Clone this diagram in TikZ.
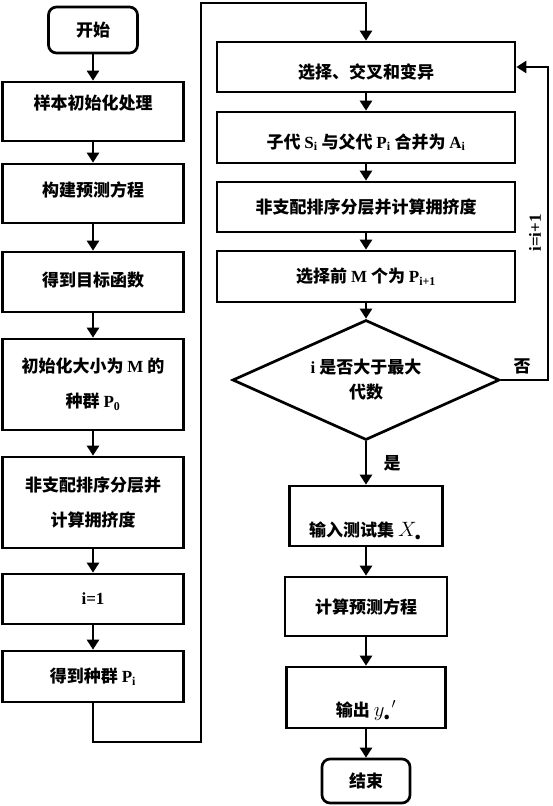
\documentclass[tikz,border=0pt]{standalone}
\usepackage{fontspec}
\setmainfont{Liberation Serif}
\newfontfamily\cjk{Noto Sans CJK SC}
\usetikzlibrary{arrows.meta, shapes.geometric}
\newcommand{\la}[1]{{\rmfamily\bfseries #1}}
\newcommand{\lgmath}[1]{{\fontsize{21}{21}\selectfont$#1$}}
\tikzset{
  every picture/.style={line width=2.7pt},
  box/.style={draw, rectangle, align=center, inner sep=0pt, font=\cjk\bfseries\fontsize{17}{35}\selectfont},
  term/.style={box, rounded corners=8pt},
  decision/.style={box, diamond, aspect=2.2, font=\cjk\bfseries\fontsize{17}{25}\selectfont},
  wh/.style 2 args={minimum width=#1, minimum height=#2},
  textpos/.style 2 args={text height=#1, text depth=#2},
  arrow/.style={-{Triangle[length=10pt, width=12pt]}},
  tag/.style={font=\cjk\bfseries\fontsize{17}{20}\selectfont, inner sep=0pt},
}

\begin{document}
\begin{tikzpicture}[x=1pt, y=-1pt]
  \useasboundingbox (0,0) rectangle (552,806);
  % left column
  \node[term, wh={89pt}{46pt}] (start) at (93,30) {开始};
  \node[box, wh={181pt}{59pt}, textpos={12pt}{16pt}] (b1) at (93,111.5) {样本初始化处理};
  \node[box, wh={181pt}{59pt}, textpos={12pt}{7pt}] (b2) at (93,193.5) {构建预测方程};
  \node[box, wh={181pt}{60pt}, textpos={12pt}{4pt}] (b3) at (93,282) {得到目标函数};
  \node[box, wh={181pt}{91pt}] (b4) at (93,384.5) {初始化大小为\ \la{M}\ 的\\种群\ \la{P\textsubscript{0}}};
  \node[box, wh={181pt}{91pt}] (b5) at (93,502.5) {非支配排序分层并\\计算拥挤度};
  \node[box, wh={181pt}{50pt}] (b6) at (93,599) {\la{i=1}};
  \node[box, wh={181pt}{51pt}] (b7) at (93,676.5) {得到种群\ \la{P\textsubscript{i}}};
  % right column
  \node[box, wh={298pt}{50pt}, textpos={22pt}{0pt}] (c1) at (366,67) {选择、交叉和变异};
  \node[box, wh={298pt}{51pt}, textpos={21pt}{0pt}] (c2) at (366,137.5) {子代\ \la{S\textsubscript{i}}\ 与父代\ \la{P\textsubscript{i}}\ 合并为\ \la{A\textsubscript{i}}};
  \node[box, wh={298pt}{50pt}] (c3) at (366,207) {非支配排序分层并计算拥挤度};
  \node[box, wh={298pt}{51pt}] (c4) at (366,276.5) {选择前\ \la{M}\ 个为\ \la{P\textsubscript{i+1}}};
  \node[decision, wh={267pt}{120pt}] (dec) at (366,380) {\la{i}\ 是否大于最大\\代数};
  \node[box, wh={153pt}{60pt}, textpos={40pt}{0pt}] (d1) at (366,516) {输入测试集\ \lgmath{X_{\textbf{.}}}};
  \node[box, wh={162pt}{59pt}] (d2) at (366,606.5) {计算预测方程};
  \node[box, wh={159pt}{61pt}, textpos={37pt}{0pt}] (d3) at (366,697.5) {输出\ \lgmath{{y_{\textbf{.}}}^{\prime}}};
  \node[term, wh={88pt}{44pt}] (end) at (366,781) {结束};
  \node[tag] (no) at (522,366) {否};
  \node[tag] (yes) at (392,463) {是};
  \node[tag, rotate=90] (inc) at (535,233) {\la{i=i+1}};

  \foreach \a/\b in {start/b1, b1/b2, b2/b3, b3/b4, b4/b5, b5/b6, b6/b7,
                     c1/c2, c2/c3, c3/c4, c4/dec, dec/d1, d1/d2, d2/d3, d3/end}
    \draw[arrow] (\a) -- (\b);

  \coordinate (jl) at (201,742);
  \coordinate (jt) at (201,3);
  \coordinate (jr) at (548,67);
  \draw[arrow] (b7.south) |- (jl) -- (jt) -| (c1.north);
  \draw[arrow] (dec.east) -| (jr) -- (c1.east);
\end{tikzpicture}
\end{document}
